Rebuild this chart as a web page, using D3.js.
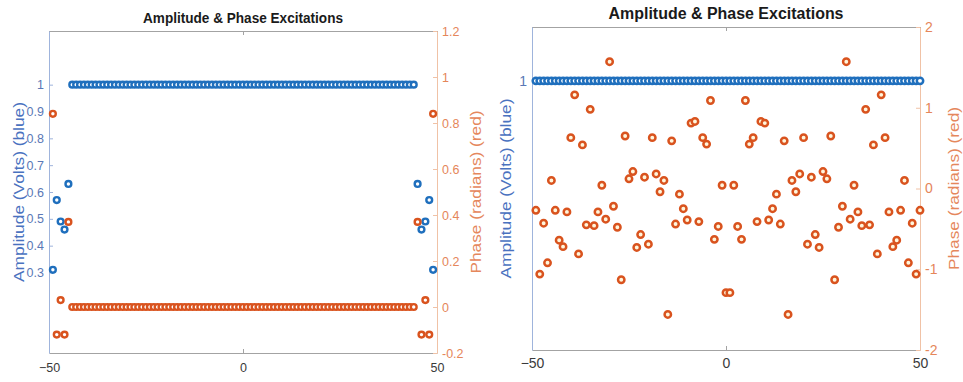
<html>
<head>
    <meta charset="utf-8">
    <title>Amplitude & Phase Excitations</title>
    <script src="https://cdn.jsdelivr.net/npm/d3@7"></script>
    <style>
        body { margin: 0; background: #fff; }
        text { font-family: "Liberation Sans", Arial, sans-serif; }
    </style>
</head>
<body>
<script>
    var width = 963;
    var height = 382;

    // ---- data: left panel (tapered array, 99 elements) ----
    var elemLeft = d3.range(-49, 50);
    var ampLeft = [
        0.31, 0.57, 0.49, 0.46, 0.63,
        1, 1, 1, 1, 1, 1, 1, 1, 1, 1,
        1, 1, 1, 1, 1, 1, 1, 1, 1, 1,
        1, 1, 1, 1, 1, 1, 1, 1, 1, 1,
        1, 1, 1, 1, 1, 1, 1, 1, 1, 1,
        1, 1, 1, 1, 1, 1, 1, 1, 1, 1,
        1, 1, 1, 1, 1, 1, 1, 1, 1, 1,
        1, 1, 1, 1, 1, 1, 1, 1, 1, 1,
        1, 1, 1, 1, 1, 1, 1, 1, 1, 1,
        1, 1, 1, 1, 1, 1, 1, 1, 1,
        0.63, 0.46, 0.49, 0.57, 0.31
    ];
    var phaseLeft = [
        0.84, -0.12, 0.03, -0.12, 0.37,
        0, 0, 0, 0, 0, 0, 0, 0, 0, 0,
        0, 0, 0, 0, 0, 0, 0, 0, 0, 0,
        0, 0, 0, 0, 0, 0, 0, 0, 0, 0,
        0, 0, 0, 0, 0, 0, 0, 0, 0, 0,
        0, 0, 0, 0, 0, 0, 0, 0, 0, 0,
        0, 0, 0, 0, 0, 0, 0, 0, 0, 0,
        0, 0, 0, 0, 0, 0, 0, 0, 0, 0,
        0, 0, 0, 0, 0, 0, 0, 0, 0, 0,
        0, 0, 0, 0, 0, 0, 0, 0, 0,
        0.37, -0.12, 0.03, -0.12, 0.84
    ];
    var ampTicksLeft = [0.3, 0.4, 0.5, 0.6, 0.7, 0.8, 0.9, 1];
    var phaseTicksLeft = [-0.2, 0, 0.2, 0.4, 0.6, 0.8, 1, 1.2];

    // ---- data: right panel (uniform amplitude, 100 elements) ----
    var elemRight = d3.range(-49, 51);
    var ampRight = [
        1, 1, 1, 1, 1, 1, 1, 1, 1, 1,
        1, 1, 1, 1, 1, 1, 1, 1, 1, 1,
        1, 1, 1, 1, 1, 1, 1, 1, 1, 1,
        1, 1, 1, 1, 1, 1, 1, 1, 1, 1,
        1, 1, 1, 1, 1, 1, 1, 1, 1, 1,
        1, 1, 1, 1, 1, 1, 1, 1, 1, 1,
        1, 1, 1, 1, 1, 1, 1, 1, 1, 1,
        1, 1, 1, 1, 1, 1, 1, 1, 1, 1,
        1, 1, 1, 1, 1, 1, 1, 1, 1, 1,
        1, 1, 1, 1, 1, 1, 1, 1, 1, 1
    ];
    var phaseRight = [
        -0.27, -1.06, -0.43, -0.92, 0.10, -0.27, -0.64, -0.72, -0.29, 0.63,
        1.16, -0.81, 0.54, -0.45, 0.98, -0.46, -0.29, 0.04, -0.38, 1.57,
        -0.22, -0.48, -1.13, 0.65, 0.12, 0.21, -0.73, -0.57, 0.14, -0.69,
        0.63, 0.18, -0.04, 0.10, -1.56, 0.59, -0.44, -0.07, -0.25, -0.39,
        0.81, 0.83, -0.41, 0.63, 0.55, 1.09, -0.63, -0.47, 0.04, -1.29,
        -1.29, 0.04, -0.47, -0.63, 1.09, 0.55, 0.63, -0.41, 0.83, 0.81,
        -0.39, -0.25, -0.07, -0.44, 0.59, -1.56, 0.10, -0.04, 0.18, 0.63,
        -0.69, 0.14, -0.57, -0.73, 0.21, 0.12, 0.65, -1.13, -0.48, -0.22,
        1.57, -0.38, 0.04, -0.29, -0.46, 0.98, -0.45, 0.54, -0.81, 1.16,
        0.63, -0.29, -0.72, -0.64, -0.27, 0.10, -0.92, -0.43, -1.06, -0.27
    ];
    var ampTicksRight = [1];
    var phaseTicksRight = [-2, -1, 0, 1, 2];

    var xTicks = [-50, 0, 50];
    var titleText = "Amplitude & Phase Excitations";

    var blue = "#1f6fbd";
    var orange = "#d9531e";

    var svg = d3.select("body")
        .append("svg")
        .attr("width", width)
        .attr("height", height);

    //one panel = box + two y axes (yyaxis style)
    function drawPanel(p) {
        var g = svg.append("g");

        var x = d3.scaleLinear().domain([-50, 50]).range([p.x0, p.x1]);
        var yA = d3.scaleLinear().domain([0, 1.2]).range([p.y1, p.y0]);
        var yP = d3.scaleLinear().domain(p.phaseDomain).range([p.y1, p.y0]);

        //bottom and top
        var bottom = g.append("g")
            .attr("transform", "translate(0," + p.y1 + ")")
            .call(d3.axisBottom(x).tickValues(xTicks).tickSizeInner(-4).tickSizeOuter(0).tickPadding(p.xPad));
        var top = g.append("g")
            .attr("transform", "translate(0," + p.y0 + ")")
            .call(d3.axisTop(x).tickValues(xTicks).tickSizeInner(-4).tickSizeOuter(0).tickFormat(""));
        [bottom, top].forEach(function (a) {
            a.select(".domain").attr("stroke", "#a3a3a3");
            a.selectAll(".tick line").attr("stroke", "#a3a3a3");
            a.selectAll("text").attr("fill", "#3a3a3a").style("font-size", p.tickFont + "px");
        });

        //left axis (amplitude, blue)
        var left = g.append("g")
            .attr("transform", "translate(" + p.x0 + ",0)")
            .call(d3.axisLeft(yA).tickValues(p.ampTicks).tickSizeInner(-4).tickSizeOuter(0).tickPadding(5)
                .tickFormat(function (d) { return d; }));
        left.select(".domain").attr("stroke", "#9fb4dc");
        left.selectAll(".tick line").attr("stroke", "#9fb4dc");
        left.selectAll("text").attr("fill", "#5a78b6").style("font-size", p.tickFont + "px");

        //right axis (phase, orange)
        var right = g.append("g")
            .attr("transform", "translate(" + p.x1 + ",0)")
            .call(d3.axisRight(yP).tickValues(p.phaseTicks).tickSizeInner(-4).tickSizeOuter(0).tickPadding(5)
                .tickFormat(function (d) { return d; }));
        right.select(".domain").attr("stroke", "#f0c2a6");
        right.selectAll(".tick line").attr("stroke", "#f0c2a6");
        right.selectAll("text").attr("fill", "#e5865a").style("font-size", p.tickFont + "px");

        //markers
        g.append("g")
            .selectAll("circle")
            .data(p.elems)
            .enter()
            .append("circle")
            .attr("cx", function (d) { return x(d); })
            .attr("cy", function (d, i) { return yA(p.amp[i]); })
            .attr("r", p.r)
            .attr("fill", "#ffffff")
            .attr("stroke", blue)
            .attr("stroke-width", p.sw);

        g.append("g")
            .selectAll("circle")
            .data(p.elems)
            .enter()
            .append("circle")
            .attr("cx", function (d) { return x(d); })
            .attr("cy", function (d, i) { return yP(p.phase[i]); })
            .attr("r", p.r)
            .attr("fill", p.orangeFill)
            .attr("stroke", orange)
            .attr("stroke-width", p.sw);

        //title
        g.append("text")
            .attr("x", (p.x0 + p.x1) / 2)
            .attr("y", p.titleY)
            .attr("text-anchor", "middle")
            .attr("font-weight", "bold")
            .attr("fill", "#1a1a1a")
            .style("font-size", p.titleFont + "px")
            .attr("textLength", p.titleLen)
            .attr("lengthAdjust", "spacingAndGlyphs")
            .text(titleText);

        //y labels
        var midY = (p.y0 + p.y1) / 2;
        g.append("text")
            .attr("transform", "translate(" + p.labL + "," + midY + ") rotate(-90)")
            .attr("text-anchor", "middle")
            .attr("fill", "#4a72bf")
            .style("font-size", p.labelFont + "px")
            .attr("textLength", 180)
            .attr("lengthAdjust", "spacingAndGlyphs")
            .text("Amplitude (Volts) (blue)");
        g.append("text")
            .attr("transform", "translate(" + p.labR + "," + midY + ") rotate(-90)")
            .attr("text-anchor", "middle")
            .attr("fill", "#e5875c")
            .style("font-size", p.labelFont + "px")
            .attr("textLength", 163)
            .attr("lengthAdjust", "spacingAndGlyphs")
            .text("Phase (radians) (red)");
    }

    drawPanel({
        x0: 49, x1: 437, y0: 31, y1: 353,
        elems: elemLeft, amp: ampLeft, phase: phaseLeft,
        ampTicks: ampTicksLeft, phaseTicks: phaseTicksLeft, phaseDomain: [-0.2, 1.2],
        r: 2.9, sw: 2.4, orangeFill: "#ffffff",
        tickFont: 12.5, titleFont: 14, titleLen: 200, titleY: 23, xPad: 10,
        labelFont: 15, labL: 24, labR: 481
    });

    drawPanel({
        x0: 532, x1: 920, y0: 27, y1: 350,
        elems: elemRight, amp: ampRight, phase: phaseRight,
        ampTicks: ampTicksRight, phaseTicks: phaseTicksRight, phaseDomain: [-2, 2],
        r: 3.2, sw: 2.5, orangeFill: "#fff6dc",
        tickFont: 14, titleFont: 16, titleLen: 235, titleY: 19, xPad: 8,
        labelFont: 15, labL: 511, labR: 959
    });
</script>
</body>
</html>
